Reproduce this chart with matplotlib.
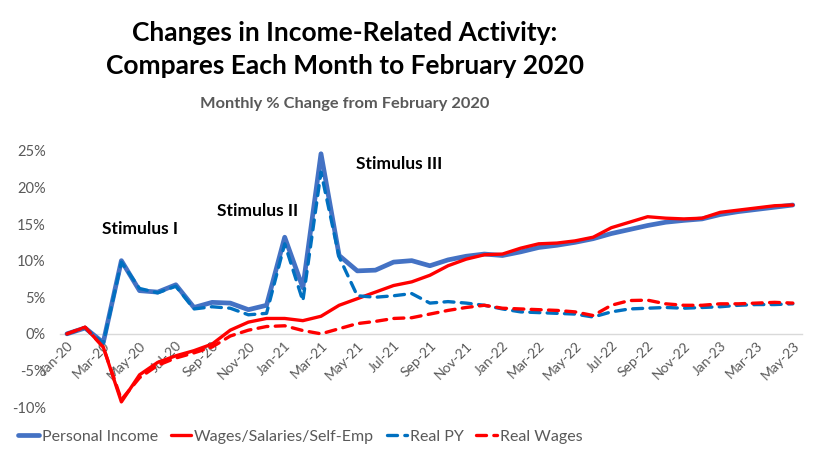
import matplotlib
matplotlib.use('Agg')
import matplotlib.pyplot as plt
from matplotlib.ticker import FuncFormatter, FixedLocator

plt.rcParams['font.family'] = ['Lato', 'DejaVu Sans']

# months Jan-20 .. May-23
years = ['20', '21', '22', '23']
month_names = ['Jan', 'Feb', 'Mar', 'Apr', 'May', 'Jun',
               'Jul', 'Aug', 'Sep', 'Oct', 'Nov', 'Dec']
months = [m + '-' + y for y in years for m in month_names][:41]

personal_income = [0.0, 0.8, -1.2, 10.0, 5.9, 5.7, 6.7, 3.6, 4.3, 4.2, 3.3, 3.9,
                   13.2, 6.3, 24.6, 10.7, 8.6, 8.7, 9.8, 10.0, 9.3, 10.1, 10.6, 10.9,
                   10.7, 11.2, 11.8, 12.1, 12.5, 13.0, 13.7, 14.25, 14.8, 15.25, 15.5, 15.7,
                   16.3, 16.7, 17.0, 17.3, 17.6]
wages = [0.0, 0.9, -1.8, -9.3, -5.6, -3.9, -3.0, -2.3, -1.4, 0.5, 1.6, 2.1,
         2.1, 1.8, 2.4, 3.9, 4.8, 5.7, 6.6, 7.1, 8.0, 9.3, 10.2, 10.8,
         10.9, 11.7, 12.3, 12.4, 12.7, 13.2, 14.5, 15.25, 16.0, 15.8, 15.7, 15.8,
         16.6, 16.9, 17.2, 17.5, 17.6]
real_py = [0.0, 0.8, -1.3, 9.8, 6.2, 5.6, 6.5, 3.4, 3.7, 3.5, 2.6, 2.8,
           12.3, 4.5, 22.1, 10.5, 5.2, 5.0, 5.2, 5.5, 4.2, 4.4, 4.2, 3.9,
           3.4, 3.0, 2.9, 2.8, 2.7, 2.3, 3.0, 3.4, 3.5, 3.6, 3.5, 3.6,
           3.7, 3.9, 4.0, 4.0, 4.1]
real_wages = [0.0, 0.9, -1.8, -9.0, -6.0, -4.3, -3.3, -2.6, -1.8, -0.3, 0.5, 1.0,
              1.1, 0.45, 0.0, 0.7, 1.4, 1.7, 2.1, 2.2, 2.7, 3.2, 3.6, 3.9,
              3.5, 3.4, 3.3, 3.2, 3.0, 2.5, 3.9, 4.55, 4.6, 4.1, 3.9, 3.9,
              4.1, 4.1, 4.2, 4.3, 4.2]

annotations = [('Stimulus I', 4.0, 14.3), ('Stimulus II', 10.5, 16.8),
               ('Stimulus III', 18.3, 23.2)]

x = list(range(len(months)))
grey = '#595959'

fig = plt.figure(figsize=(8.21, 4.76), dpi=100)
ax = fig.add_axes([0.0727, 0.1372, 0.904, 0.5536])

ax.plot(x, personal_income, color='#4472C4', lw=3.4, label='Personal Income',
        solid_capstyle='round', zorder=3)
ax.plot(x, wages, color='#FF0000', lw=2.4, label='Wages/Salaries/Self-Emp',
        solid_capstyle='round', zorder=4)
ax.plot(x, real_py, color='#0070C0', lw=2.4, ls=(0, (3, 2.2)), label='Real PY',
        dash_capstyle='round', zorder=5)
ax.plot(x, real_wages, color='#FF0000', lw=2.4, ls=(0, (3, 2.2)), label='Real Wages',
        dash_capstyle='round', zorder=5)

for txt, tx, ty in annotations:
    ax.text(tx, ty, txt, ha='center', va='center', fontsize=12.5,
            fontweight='bold', color='black')

# zero line as x axis (set before tick labels, it resets the ticks)
for s in ['top', 'right', 'left']:
    ax.spines[s].set_visible(False)
ax.spines['bottom'].set_position(('data', 0))
ax.spines['bottom'].set_color('#D9D9D9')
ax.spines['bottom'].set_linewidth(1.0)
ax.spines['bottom'].set_zorder(1)

ax.set_xlim(-0.4, 40.5)
ax.set_ylim(-10.5, 25.5)
ax.set_yticks(range(-10, 30, 5))
ax.yaxis.set_major_formatter(FuncFormatter(lambda v, p: f'{int(v)}%'))
ax.tick_params(axis='y', length=0, labelsize=10.5, labelcolor=grey, pad=10)

ax.xaxis.set_major_locator(FixedLocator(x[::2]))
ax.set_xticklabels(months[::2], rotation=45, ha='right', rotation_mode='anchor')
ax.tick_params(axis='x', length=0, labelsize=10, labelcolor=grey, pad=4)

fig.text(0.42, 0.955, 'Changes in Income-Related Activity:\nCompares Each Month to February 2020',
         ha='center', va='top', fontsize=19, fontweight='bold', linespacing=1.45)
fig.text(0.42, 0.7815, 'Monthly % Change from February 2020', ha='center', va='center',
         fontsize=11.8, fontweight='bold', color=grey)

leg = fig.legend(loc='center left', bbox_to_anchor=(0.005, 0.083), ncol=4, frameon=False,
                 handlelength=1.3, handletextpad=0.15, columnspacing=0.8,
                 prop={'size': 11.5})
for t in leg.get_texts():
    t.set_color(grey)

fig.savefig('out.png', dpi=100)
